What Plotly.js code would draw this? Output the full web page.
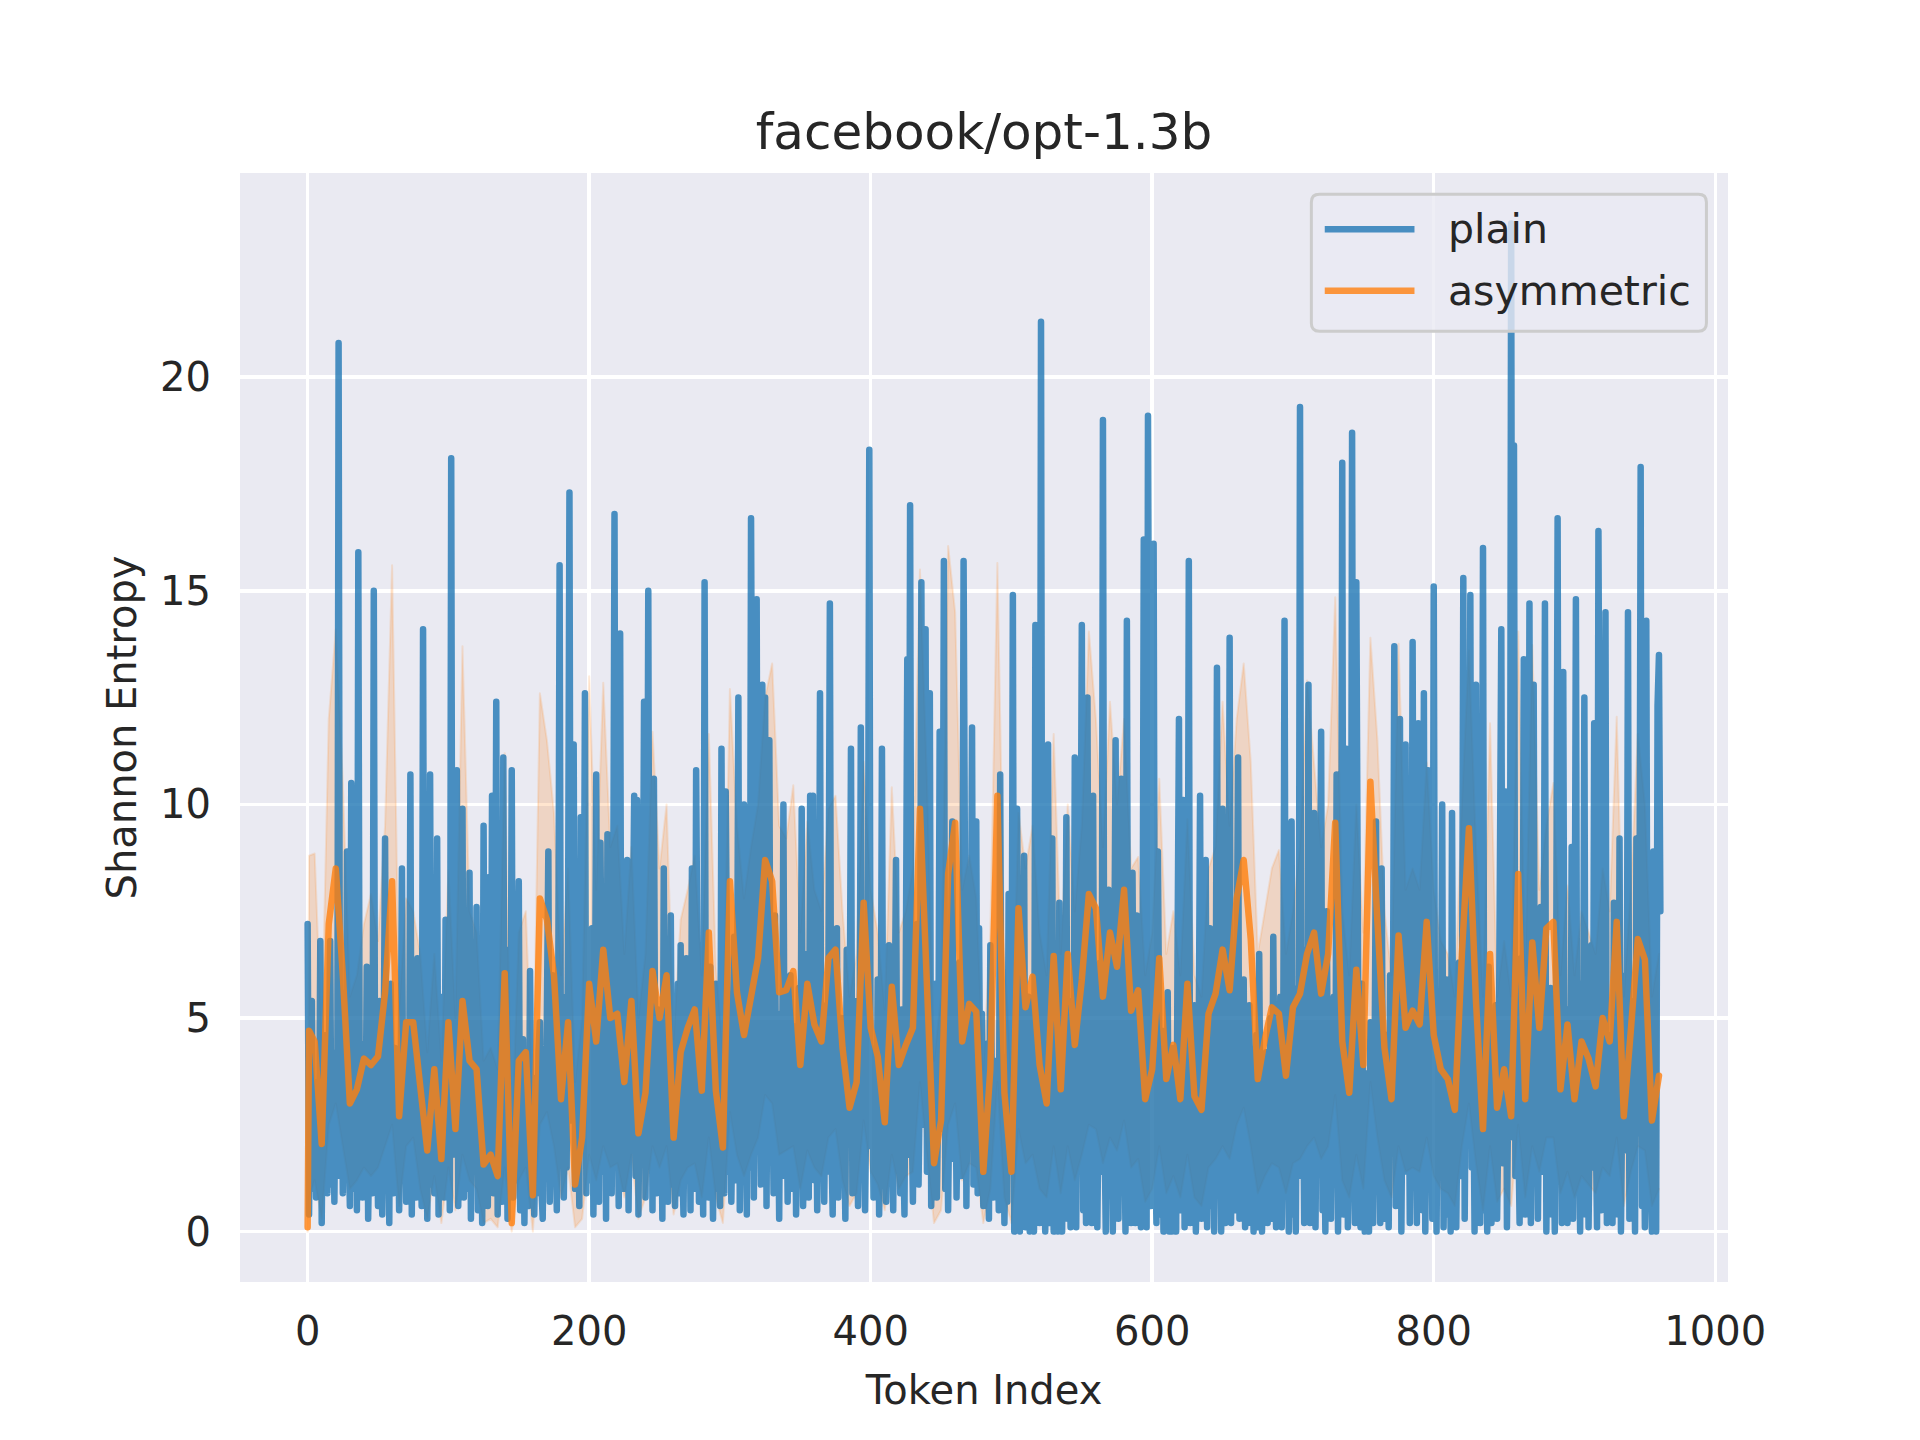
<!DOCTYPE html>
<html>
<head>
<meta charset="utf-8">
<script src="https://cdn.plot.ly/plotly-3.0.1.min.js"></script>
<style>html,body{margin:0;padding:0;background:#fff;}#chart{width:1920px;height:1440px;}</style>
</head>
<body>
<div id="chart"></div>
<script>
const chartTitle = "facebook/opt-1.3b";
const xLabel = "Token Index";
const yLabel = "Shannon Entropy";
const seriesNames = ["plain", "asymmetric"];
const xTicks = [0, 200, 400, 600, 800, 1000];
const yTicks = [0, 5, 10, 15, 20];

// plain: one value per token index 0..961
const plain = [
7.2,0.4,4.8,5.4,1.0,3.5,0.8,2.6,1.2,6.8,
0.2,3.9,1.5,4.6,0.9,2.8,6.8,1.1,3.4,0.7,
4.2,1.3,20.8,2.1,5.6,0.9,3.8,1.6,8.9,2.4,
0.6,10.5,3.2,1.0,5.1,0.5,15.9,2.7,4.4,0.8,
3.6,1.4,6.2,0.3,2.9,4.7,0.9,15.0,1.8,3.3,
0.6,5.4,2.2,0.4,4.1,9.2,1.7,3.0,0.2,5.8,
2.5,0.9,4.3,1.2,3.7,0.5,2.8,8.5,1.4,4.9,
0.7,3.1,1.9,10.7,0.4,5.2,2.3,0.8,6.4,1.5,
3.8,0.6,14.1,2.0,4.5,0.3,3.4,10.7,1.1,5.0,
0.9,2.7,9.2,0.4,3.9,1.6,5.5,0.8,7.3,2.2,
4.0,0.5,18.1,1.8,6.1,2.9,10.8,0.6,4.6,1.3,
9.9,0.8,3.5,5.9,1.0,8.4,0.3,4.4,1.9,3.2,
7.6,0.5,2.6,5.0,0.2,9.5,1.7,4.2,0.6,8.3,
2.1,10.2,0.9,3.6,12.4,0.4,5.3,2.0,0.7,11.1,
1.5,4.8,0.3,6.6,2.4,10.8,0.8,3.7,1.2,5.6,
8.2,0.5,2.9,4.5,0.2,3.3,1.4,0.6,6.1,1.9,
3.6,0.4,2.5,0.9,4.2,4.9,1.1,0.3,3.0,1.6,
5.2,8.9,0.7,3.4,6.0,1.3,2.7,0.5,4.9,15.6,
2.3,5.5,0.8,3.9,1.5,7.0,17.3,2.6,4.8,11.4,
1.0,6.3,3.1,0.6,9.7,2.0,4.6,12.6,0.9,5.4,
3.3,1.2,7.1,0.4,4.0,10.7,2.5,0.7,9.1,3.8,
1.4,5.9,0.3,9.3,2.8,4.5,0.9,6.4,16.8,1.9,
3.6,0.6,14.0,2.4,5.1,1.0,3.3,8.7,0.5,4.7,
2.0,6.8,10.2,1.3,10.1,0.4,3.9,2.6,5.7,12.4,
0.8,4.3,15.0,1.7,6.0,0.5,10.6,2.9,0.9,5.2,
1.6,3.8,0.3,8.5,2.2,4.9,0.7,3.1,7.4,1.1,
4.4,0.6,2.7,5.8,0.9,6.7,2.0,0.4,3.6,6.4,
1.2,4.7,0.5,8.5,2.6,1.0,10.8,3.4,0.7,5.3,
2.1,0.4,15.2,1.8,4.6,0.8,6.2,2.5,0.3,3.9,
5.8,1.0,4.1,0.6,11.3,2.3,0.9,10.3,3.7,1.4,
5.5,0.7,3.0,6.9,1.2,4.4,12.5,0.5,3.2,1.8,
10.0,2.7,0.4,5.6,1.5,16.7,3.1,0.8,6.3,14.8,
2.4,4.9,1.1,12.8,3.5,12.5,0.6,5.0,11.5,2.0,
4.2,0.9,7.4,1.7,3.8,0.3,5.1,2.6,10.0,1.3,
4.5,0.7,2.9,6.0,3.7,1.0,4.8,0.4,2.3,5.7,
1.5,9.9,0.6,3.6,2.1,6.5,0.8,10.2,2.7,10.2,
1.2,4.7,0.5,3.0,12.6,1.9,5.3,0.7,3.9,1.4,
6.1,14.7,2.2,0.4,4.4,1.6,7.1,0.8,3.3,5.0,
1.1,2.8,0.3,6.6,2.4,4.0,11.3,0.9,3.5,1.7,
5.4,0.6,3.1,11.8,1.3,4.6,0.5,2.9,6.2,18.3,
2.0,4.3,0.8,3.7,1.5,5.9,0.4,2.6,11.3,1.9,
4.1,0.7,3.4,6.7,1.2,2.8,0.5,4.9,8.7,1.6,
3.6,0.9,5.2,2.2,0.4,6.4,13.4,1.8,17.0,3.0,
0.7,4.5,2.0,7.2,1.1,3.8,15.2,2.5,5.6,14.1,
1.4,4.0,12.6,0.6,3.3,1.9,5.8,0.8,3.1,11.7,
2.4,5.1,15.7,1.0,4.3,0.5,3.6,6.9,9.6,1.7,
4.6,0.8,2.9,6.3,1.3,3.9,15.7,2.2,0.6,5.0,
2.6,4.2,11.8,1.1,3.5,9.6,0.9,7.1,2.0,5.1,
0.6,3.4,1.5,4.4,0.3,6.7,2.1,0.8,4.0,1.2,
3.2,0.5,10.7,1.9,4.1,0.2,2.7,0.7,7.9,1.4,
3.0,14.9,0,2.5,9.9,1.6,0,4.3,0.4,8.8,
0.1,2.4,5.5,0,3.6,0.6,0,14.2,2.0,4.7,
0.2,21.3,1.5,3.9,0,6.1,11.4,0.2,3.2,9.2,
0,2.8,5.0,0,7.7,1.9,0,4.5,2.3,9.7,
0.3,3.7,0.1,5.4,1.6,11.1,0.1,4.0,2.5,6.8,
14.2,0.5,3.8,0.2,12.5,2.2,5.7,0.2,10.2,1.6,
4.4,0.1,3.0,6.3,1.4,19.0,2.7,0,4.9,8.0,
1.8,3.5,0,6.0,11.5,2.3,0.3,4.6,10.6,1.5,
3.3,0,14.3,2.0,5.2,0.2,8.4,2.9,0.2,7.4,
1.7,4.1,0.1,3.4,16.2,2.1,0.1,19.1,3.6,0.6,
5.6,16.1,2.4,0.2,8.9,3.3,0.4,4.7,0,2.8,
1.4,5.6,0,3.1,0,4.3,1.8,0,6.5,12.0,
0.5,3.8,10.1,0.1,4.9,2.2,15.7,0.2,3.4,1.6,
5.3,0,2.6,4.1,10.2,0.3,3.0,1.4,8.7,0.1,
2.9,7.1,0.6,4.4,0,3.6,13.2,1.9,5.0,0,
9.9,2.5,0.2,4.8,1.7,13.9,0.2,3.3,6.1,0.5,
4.0,11.1,0.3,3.7,1.6,5.9,0.1,2.7,0.2,5.3,
1.5,3.9,0,2.4,4.6,0.1,6.5,1.9,0,3.5,
0.6,4.2,0.2,2.8,5.0,0.3,6.9,2.3,0.1,3.6,
1.4,5.5,0.1,3.2,14.3,1.8,4.4,0,2.6,9.6,
0.4,3.9,0,5.7,2.2,19.3,1.3,4.5,0.2,6.6,
2.0,12.8,0.2,3.6,1.6,9.8,0.1,4.1,2.5,5.8,
11.7,0.5,3.4,0,7.5,2.1,4.7,0.3,3.0,5.5,
1.4,10.7,0,3.8,2.3,18.0,0.4,4.9,11.3,0.1,
3.2,1.6,18.7,2.8,0.2,15.2,3.9,0.5,0.1,5.8,
2.0,0,3.7,1.3,0,4.9,2.6,0.2,4.1,9.6,
1.5,3.4,0.2,8.5,2.2,0.3,4.6,1.8,0.1,6.0,
2.7,5.0,13.7,0.6,3.8,7.2,12.0,0,4.3,2.1,
11.4,1.4,5.6,0.2,3.3,13.8,2.0,6.4,0.2,11.9,
2.9,4.8,0.5,12.6,0,3.6,10.8,1.7,5.3,0.3,
15.1,2.4,0,4.5,1.5,3.1,10.0,0.1,2.7,5.9,
0.4,3.9,0,9.8,1.8,4.2,0.1,2.5,6.3,1.3,
3.7,15.3,0.3,5.1,2.3,7.0,14.9,1.5,4.4,0,
12.8,2.1,5.6,0.2,3.5,16.0,0.5,4.7,0,6.2,
2.0,0.2,3.8,1.4,5.3,0.3,2.7,6.8,14.1,1.6,
4.3,10.3,0.1,3.6,2.2,23.6,4.1,18.4,1.3,5.0,
2.6,0.2,6.4,3.3,13.4,0.4,4.8,2.4,14.7,0.2,
3.9,12.8,1.7,5.5,0.3,3.1,7.6,1.4,4.2,14.7,
0,3.4,1.9,5.7,0.4,2.9,0,6.1,16.7,2.3,
4.9,0.2,13.1,2.0,5.2,0.2,3.7,1.6,9.0,0.3,
4.4,14.8,1.3,3.6,0,5.8,2.4,12.5,0.4,4.1,
0.1,3.2,6.7,1.5,11.9,2.8,0.1,16.4,3.4,0.5,
5.3,2.0,14.5,0.2,4.6,1.7,3.0,0.2,7.7,2.2,
4.8,0.4,9.2,0,3.5,1.9,6.0,2.7,14.5,0.3,
4.0,1.6,5.4,0,9.2,2.3,4.5,17.9,0.6,3.8,
0.1,14.3,2.5,5.2,1.3,0,8.9,2.0,0,12.3,
13.5,7.5
];

// asymmetric: token positions, mean line and band limits
const asymX = [
0,1,
5,10,15,20,25,30,35,40,45,50,
55,60,65,70,75,80,85,90,95,100,
105,110,115,120,125,130,135,140,145,150,
155,160,165,170,175,180,185,190,195,200,
205,210,215,220,225,230,235,240,245,250,
255,260,265,270,275,280,285,290,295,300,
305,310,315,320,325,330,335,340,345,350,
355,360,365,370,375,380,385,390,395,400,
405,410,415,420,425,430,435,440,445,450,
455,460,465,470,475,480,485,490,495,500,
505,510,515,520,525,530,535,540,545,550,
555,560,565,570,575,580,585,590,595,600,
605,610,615,620,625,630,635,640,645,650,
655,660,665,670,675,680,685,690,695,700,
705,710,715,720,725,730,735,740,745,750,
755,760,765,770,775,780,785,790,795,800,
805,810,815,820,825,830,835,840,845,850,
855,860,865,870,875,880,885,890,895,900,
905,910,915,920,925,930,935,940,945,950,
955,960
];
const asymMean = [
0.1,4.7,
4.45,2.05,7.2,8.5,6.0,3.0,3.33,4.05,3.9,4.1,
5.6,8.2,2.7,4.9,4.9,3.5,1.9,3.8,1.7,4.9,
2.4,5.4,4.0,3.8,1.57,1.8,1.3,6.05,0.2,4.0,
4.2,0.85,7.8,7.3,6.0,3.1,4.9,1.1,2.2,5.8,
4.45,6.6,5.0,5.1,3.5,5.4,2.3,3.25,6.1,5.0,
6.0,2.2,4.2,4.77,5.2,3.3,7.0,3.3,1.97,8.2,
5.6,4.6,5.5,6.4,8.7,8.2,5.6,5.65,6.1,3.9,
5.8,4.85,4.45,6.4,6.6,4.3,2.9,3.5,7.7,4.77,
4.1,2.56,5.73,3.9,4.37,4.77,9.9,6.05,1.6,2.6,
8.37,9.57,4.45,5.33,5.15,1.4,3.8,10.2,3.25,1.4,
7.57,5.25,5.97,3.9,3.0,6.45,3.33,6.5,4.37,5.9,
7.9,7.57,5.5,7.0,6.2,8.0,5.17,5.65,3.1,3.8,
6.4,3.57,4.37,3.1,5.8,3.17,2.85,5.1,5.57,6.6,
5.65,7.8,8.7,6.85,3.57,4.5,5.25,5.1,3.65,5.25,
5.57,6.5,7.0,5.57,6.5,9.57,4.45,3.25,6.13,3.9,
10.53,7.25,4.3,3.1,6.93,4.77,5.17,4.85,7.25,4.6,
3.8,3.57,2.85,6.5,9.44,5.4,2.4,6.5,2.9,3.8,
2.7,8.37,3.1,6.77,4.77,7.1,7.25,3.33,4.85,3.1,
4.45,4.05,3.4,5.0,4.45,7.25,2.7,4.7,6.85,6.37,
2.6,3.65
];
const asymUpper = [
0.3,8.8,
8.85,4.5,12.0,14.1,10.5,5.5,6.0,7.2,7.9,6.8,
9.5,15.6,5.2,7.8,7.5,6.5,4.2,6.5,4.0,8.45,
5.0,13.7,7.5,7.0,4.0,4.3,3.8,11.2,2.0,7.0,
7.5,3.0,12.6,11.5,9.8,6.0,8.5,3.5,5.0,13.0,
8.0,12.85,9.0,9.5,6.5,9.0,5.0,6.5,11.7,8.5,
10.0,4.5,7.3,8.0,8.8,6.0,11.65,6.2,4.2,12.7,
9.5,7.8,9.0,10.0,12.5,13.3,9.5,9.2,10.45,7.0,
9.6,8.0,7.5,9.9,10.2,7.5,5.5,6.5,11.0,8.0,
7.0,5.2,10.4,7.0,7.5,8.5,15.5,10.5,4.0,5.5,
16.05,14.5,8.0,8.8,7.8,3.8,7.0,15.65,6.5,3.5,
9.8,8.5,9.5,7.0,6.0,11.65,6.5,10.0,7.5,9.5,
14.05,12.0,9.0,12.4,10.0,12.0,8.5,8.77,6.0,7.0,
10.6,6.5,7.5,6.0,9.65,6.0,5.5,8.5,9.0,12.4,
9.5,12.0,13.3,11.0,6.5,7.5,8.5,8.93,6.5,7.5,
9.0,12.9,11.0,9.0,10.0,14.85,7.5,6.0,10.0,7.0,
13.9,11.5,7.5,6.0,13.76,8.0,8.5,8.0,10.98,8.0,
6.8,6.5,5.5,10.0,13.6,9.0,5.5,11.9,5.5,6.8,
5.5,14.05,6.0,13.73,8.0,9.5,10.5,6.0,8.1,6.0,
7.5,7.0,6.5,8.5,7.5,12.05,5.5,8.0,11.65,10.0,
5.5,6.5
];
const asymLower = [
0,0.8,
1.2,0.3,2.5,3.0,2.0,1.0,1.2,1.5,1.3,1.5,
2.0,2.5,0.6,2.0,2.2,1.0,0.3,1.3,0.2,1.5,
0.5,1.8,1.2,1.0,0.2,0.3,0.1,1.5,0.0,1.2,
1.5,0.0,2.5,2.8,2.0,0.8,1.5,0.1,0.3,1.8,
1.2,2.0,1.5,1.6,0.8,1.8,0.3,0.8,2.0,1.5,
2.0,0.4,1.2,1.5,1.6,0.8,2.2,0.8,0.2,2.8,
1.8,1.3,1.8,2.2,3.2,3.0,1.8,1.9,2.0,1.0,
1.9,1.5,1.3,2.2,2.4,1.2,0.6,0.9,2.6,1.4,
1.1,0.5,1.8,1.0,1.3,1.4,3.5,1.8,0.2,0.5,
2.5,3.0,1.2,1.6,1.5,0.2,1.0,3.5,0.8,0.2,
2.4,1.6,1.8,1.0,0.8,2.0,0.9,2.0,1.2,1.8,
2.5,2.4,1.6,2.2,1.9,2.6,1.5,1.7,0.7,1.0,
2.0,0.9,1.3,0.8,1.8,0.8,0.6,1.5,1.7,2.0,
1.7,2.5,2.9,2.0,0.9,1.3,1.6,1.5,0.9,1.6,
1.7,2.0,2.2,1.7,2.0,3.2,1.2,0.8,1.8,1.0,
3.5,2.2,1.2,0.8,2.0,1.4,1.5,1.4,2.2,1.3,
1.0,0.9,0.6,2.0,3.0,1.6,0.5,2.0,0.7,1.0,
0.6,2.5,0.8,2.0,1.4,2.2,2.2,0.9,1.4,0.8,
1.3,1.1,0.9,1.5,1.3,2.2,0.6,1.4,2.0,1.9,
0.6,1.0
];

const plainX = plain.map((_, i) => i);

const FONT = "DejaVu Sans, Liberation Sans, sans-serif";
const TXT = "#262626";
const BLUE = "rgba(31,119,180,0.8)";
const ORANGE = "rgba(255,127,14,0.8)";
const LW = 6.5;

const traces = [
  {x: asymX, y: asymLower, type: "scatter", mode: "lines", showlegend: false, hoverinfo: "skip",
   line: {color: "rgba(255,127,14,0.15)", width: 2}},
  {x: asymX, y: asymUpper, type: "scatter", mode: "lines", showlegend: false, hoverinfo: "skip",
   fill: "tonexty", fillcolor: "rgba(255,127,14,0.2)",
   line: {color: "rgba(255,127,14,0.15)", width: 2}},
  {x: plainX, y: plain, type: "scatter", mode: "lines", name: seriesNames[0], showlegend: false,
   line: {color: BLUE, width: LW}},
  {x: asymX, y: asymMean, type: "scatter", mode: "lines", name: seriesNames[1], showlegend: false,
   line: {color: ORANGE, width: LW}}
];

// legend drawn as a framed box in paper coordinates
const L = {x0: 0.7200, x1: 0.9855, y0: 0.8573, y1: 0.9809, rx: 0.0054, ry: 0.0072};
const boxPath = `M ${L.x0+L.rx},${L.y1} L ${L.x1-L.rx},${L.y1} Q ${L.x1},${L.y1} ${L.x1},${L.y1-L.ry} ` +
  `L ${L.x1},${L.y0+L.ry} Q ${L.x1},${L.y0} ${L.x1-L.rx},${L.y0} L ${L.x0+L.rx},${L.y0} ` +
  `Q ${L.x0},${L.y0} ${L.x0},${L.y0+L.ry} L ${L.x0},${L.y1-L.ry} Q ${L.x0},${L.y1} ${L.x0+L.rx},${L.y1} Z`;
const legendRows = [0.9492, 0.8938];
const legendColors = [BLUE, ORANGE];

const shapes = [
  {type: "path", path: boxPath, xref: "paper", yref: "paper", layer: "above",
   fillcolor: "rgba(234,234,242,0.8)", line: {color: "#cccccc", width: 3}}
];
legendRows.forEach((y, i) => shapes.push({
  type: "line", xref: "paper", yref: "paper", layer: "above",
  x0: 0.7290, x1: 0.7893, y0: y, y1: y, line: {color: legendColors[i], width: LW}
}));
const annotations = seriesNames.map((n, i) => ({
  text: n, xref: "paper", yref: "paper", x: 0.8105, y: legendRows[i],
  xanchor: "left", yanchor: "middle", showarrow: false,
  font: {family: FONT, size: 41, color: TXT}
}));

const layout = {
  width: 1920, height: 1440,
  margin: {l: 240, r: 192, t: 173, b: 158, pad: 0},
  paper_bgcolor: "#ffffff",
  plot_bgcolor: "#eaeaf2",
  font: {family: FONT, color: TXT, size: 40},
  title: {text: chartTitle, font: {family: FONT, size: 50, color: TXT},
          x: 0.5, xref: "paper", xanchor: "center", y: 0.909, yref: "container", yanchor: "middle"},
  showlegend: false,
  shapes: shapes,
  annotations: annotations,
  xaxis: {
    range: [-48.05, 1009.05], tickvals: xTicks,
    showgrid: true, gridcolor: "#ffffff", gridwidth: 3.5,
    zeroline: false, showline: false,
    ticks: "outside", ticklen: 14, tickcolor: "rgba(0,0,0,0)",
    tickfont: {family: FONT, size: 40, color: TXT},
    title: {text: xLabel, font: {family: FONT, size: 40, color: TXT}, standoff: 22}
  },
  yaxis: {
    range: [-1.18, 24.78], tickvals: yTicks,
    showgrid: true, gridcolor: "#ffffff", gridwidth: 3.5,
    zeroline: false, showline: false,
    ticks: "outside", ticklen: 20, tickcolor: "rgba(0,0,0,0)",
    tickfont: {family: FONT, size: 40, color: TXT},
    title: {text: yLabel, font: {family: FONT, size: 40, color: TXT}, standoff: 11}
  }
};

function roundJoins() {
  document.querySelectorAll(".scatterlayer path.js-line").forEach(p => {
    p.style.strokeLinejoin = "round";
    p.style.strokeLinecap = "round";
  });
}

Plotly.newPlot("chart", traces, layout, {staticPlot: true, displayModeBar: false}).then(roundJoins);
roundJoins();
</script>
</body>
</html>
